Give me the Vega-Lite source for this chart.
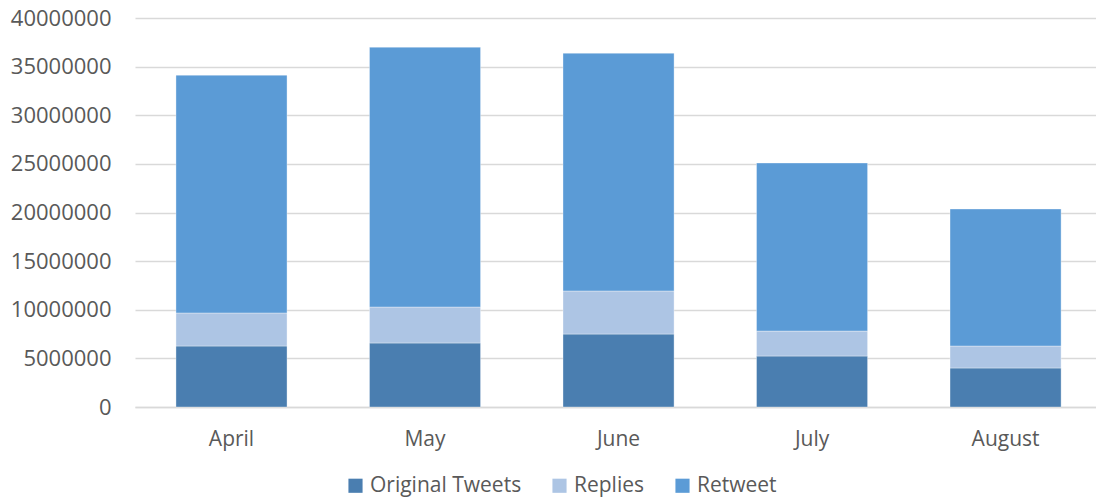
{
  "$schema": "https://vega.github.io/schema/vega-lite/v6.json",
  "width": 961,
  "height": 389,
  "autosize": {"type": "none"},
  "padding": {"left": 135, "top": 18, "right": 0, "bottom": 94},
  "background": "white",
  "config": {
    "view": {"stroke": null},
    "font": "Open Sans",
    "axis": {"labelFont": "Open Sans", "labelColor": "#595959"}
  },
  "data": {
    "values": [
      {"month": "April", "type": "Original Tweets", "value": 6270000},
      {"month": "April", "type": "Replies", "value": 3400000},
      {"month": "April", "type": "Retweet", "value": 24450000},
      {"month": "May", "type": "Original Tweets", "value": 6580000},
      {"month": "May", "type": "Replies", "value": 3700000},
      {"month": "May", "type": "Retweet", "value": 26720000},
      {"month": "June", "type": "Original Tweets", "value": 7500000},
      {"month": "June", "type": "Replies", "value": 4430000},
      {"month": "June", "type": "Retweet", "value": 24450000},
      {"month": "July", "type": "Original Tweets", "value": 5240000},
      {"month": "July", "type": "Replies", "value": 2570000},
      {"month": "July", "type": "Retweet", "value": 17280000},
      {"month": "August", "type": "Original Tweets", "value": 4010000},
      {"month": "August", "type": "Replies", "value": 2260000},
      {"month": "August", "type": "Retweet", "value": 14090000}
    ]
  },
  "mark": {"type": "bar", "stroke": "white", "strokeOpacity": 0.35, "strokeWidth": 1},
  "encoding": {
    "x": {
      "field": "month",
      "type": "nominal",
      "sort": ["April", "May", "June", "July", "August"],
      "scale": {"paddingInner": 0.426, "paddingOuter": 0.196, "align": 0.54},
      "axis": {
        "title": null,
        "labelAngle": 0,
        "labelFontSize": 21,
        "ticks": false,
        "domain": true,
        "domainColor": "#d9d9d9",
        "domainWidth": 1.5,
        "labelPadding": 21,
        "grid": false
      }
    },
    "y": {
      "field": "value",
      "type": "quantitative",
      "stack": "zero",
      "scale": {"domain": [0, 40000000], "nice": false},
      "axis": {
        "title": null,
        "values": [0, 5000000, 10000000, 15000000, 20000000, 25000000, 30000000, 35000000, 40000000],
        "format": "d",
        "labelFontSize": 22,
        "labelOverlap": false,
        "ticks": false,
        "domain": false,
        "grid": true,
        "gridColor": "#d9d9d9",
        "gridWidth": 1.5,
        "labelPadding": 24
      }
    },
    "order": {"field": "type", "type": "nominal", "sort": "ascending"},
    "color": {
      "field": "type",
      "type": "nominal",
      "scale": {
        "domain": ["Original Tweets", "Replies", "Retweet"],
        "range": ["#4a7eb0", "#adc5e4", "#5b9bd6"]
      },
      "legend": {
        "title": null,
        "orient": "none",
        "direction": "horizontal",
        "legendX": 210,
        "legendY": 457,
        "symbolType": "square",
        "symbolSize": 200,
        "symbolStrokeWidth": 0,
        "labelFontSize": 21,
        "labelFont": "Open Sans",
        "labelColor": "#595959",
        "labelOffset": 4,
        "labelLimit": 300,
        "columnPadding": 27
      }
    }
  }
}
